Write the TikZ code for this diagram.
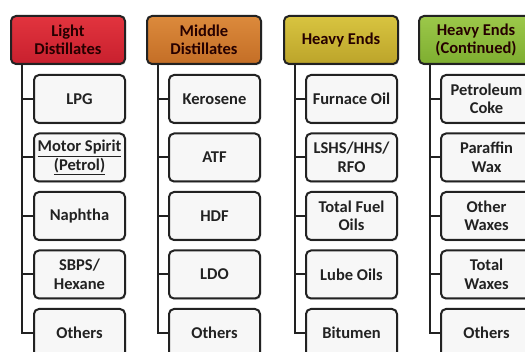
\documentclass[tikz,border=0pt]{standalone}
\usepackage{fontspec}
\setmainfont{Carlito}
\usetikzlibrary{shadows}
\definecolor{redA}{HTML}{E2343E}
\definecolor{redB}{HTML}{C8202E}
\definecolor{orgA}{HTML}{DC8A3C}
\definecolor{orgB}{HTML}{C46E26}
\definecolor{olvA}{HTML}{D8C440}
\definecolor{olvB}{HTML}{BCA42A}
\definecolor{grnA}{HTML}{9CC84A}
\definecolor{grnB}{HTML}{7EAE30}
\definecolor{edge}{HTML}{222222}
\definecolor{txt}{HTML}{222222}
\tikzset{
  base/.style={rounded corners=5pt, draw=edge, line width=2pt, anchor=north west,
    align=center, font=\fontsize{16.5}{18.5}\selectfont\bfseries, text=txt, inner sep=0pt,
    drop shadow={shadow xshift=1pt, shadow yshift=-1.5pt, opacity=0.25}},
  hdr/.style={base, minimum width=114pt, minimum height=48pt, text=black!85!red},
  kid/.style={base, minimum width=91pt, minimum height=48pt, fill=white!97!black},
  conn/.style={draw=edge, line width=2pt}
}
\begin{document}
\begin{tikzpicture}[x=1pt,y=-1pt]
\path[use as bounding box, clip] (0,0) rectangle (525,352);
\fill[white] (0,0) rectangle (525,352);
% headers
\node[hdr, top color=redA, bottom color=redB] (h1) at (10,15) {Light\\Distillates};
\node[hdr, top color=orgA, bottom color=orgB] (h2) at (146,15) {Middle\\Distillates};
\node[hdr, top color=olvA, bottom color=olvB] (h3) at (283,15) {Heavy Ends};
\node[hdr, top color=grnA, bottom color=grnB] (h4) at (418,15) {Heavy Ends\\(Continued)};
% column 1
\node[kid] (a1) at (33,74) {LPG};
\node[kid] (a2) at (33,132.5) {\underline{Motor Spirit}\\\underline{(Petrol)}};
\node[kid] (a3) at (33,191) {Naphtha};
\node[kid] (a4) at (33,249.5) {SBPS/\\Hexane};
\node[kid] (a5) at (33,308) {Others};
% column 2
\node[kid] (b1) at (168,74) {Kerosene};
\node[kid] (b2) at (168,132.5) {ATF};
\node[kid] (b3) at (168,191) {HDF};
\node[kid] (b4) at (168,249.5) {LDO};
\node[kid] (b5) at (168,308) {Others};
% column 3
\node[kid] (c1) at (305,74) {Furnace Oil};
\node[kid] (c2) at (305,132.5) {LSHS/HHS/\\RFO};
\node[kid] (c3) at (305,191) {Total Fuel\\Oils};
\node[kid] (c4) at (305,249.5) {Lube Oils};
\node[kid] (c5) at (305,308) {Bitumen};
% column 4
\node[kid] (d1) at (440,74) {Petroleum\\Coke};
\node[kid] (d2) at (440,132.5) {Paraffin\\Wax};
\node[kid] (d3) at (440,191) {Other\\Waxes};
\node[kid] (d4) at (440,249.5) {Total\\Waxes};
\node[kid] (d5) at (440,308) {Others};
% connectors
\foreach \h/\c in {h1/a,h2/b,h3/c,h4/d}{
  \foreach \i in {1,...,5}{
    \draw[conn] ([xshift=12pt]\h.south west) |- (\c\i.west);
  }
}
\end{tikzpicture}
\end{document}
